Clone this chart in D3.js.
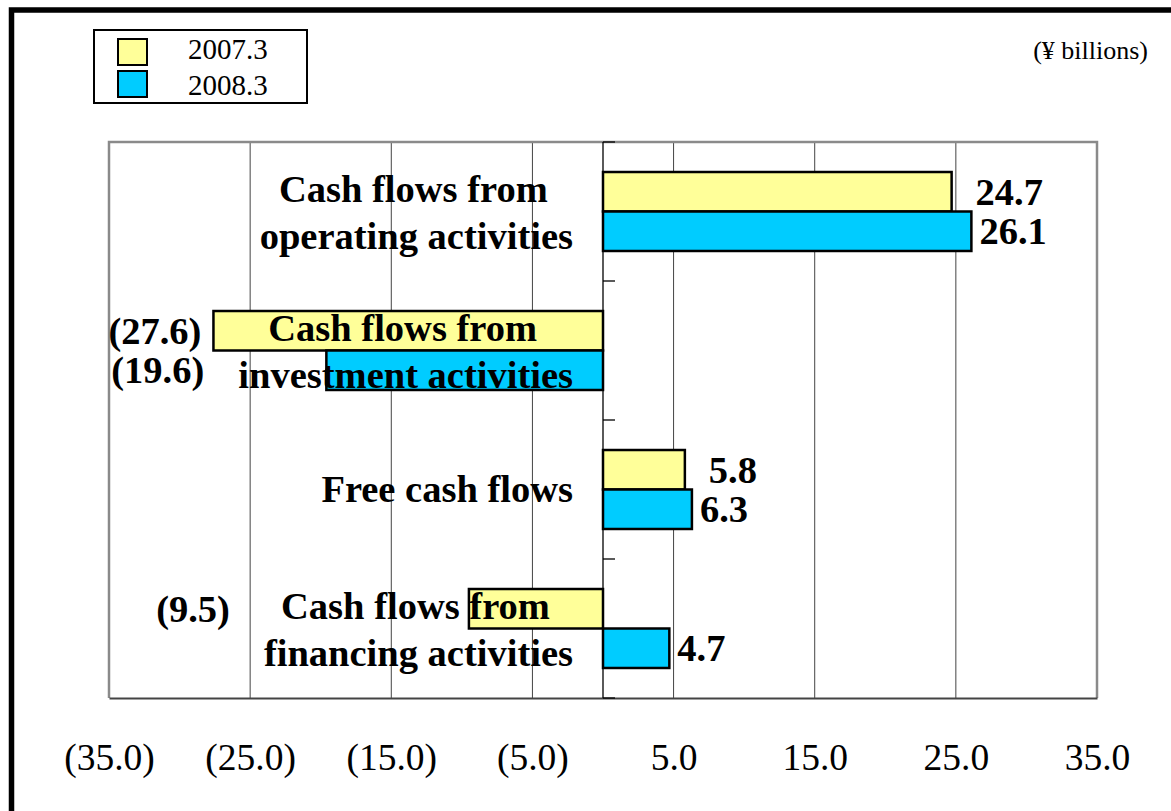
<!DOCTYPE html>
<html>
<head>
<meta charset="utf-8">
<script src="https://cdn.jsdelivr.net/npm/d3@7"></script>
<style>
  body { margin: 0; background: white; }
  svg text { font-family: "Liberation Serif", "Times New Roman", serif; }
</style>
</head>
<body>
<script>
// data (¥ billions)
var categories = [
  ["Cash flows from", "operating activities"],
  ["Cash flows from", "investment activities"],
  ["Free cash flows"],
  ["Cash flows from", "financing activities"]
];
var series = ["2007.3", "2008.3"];
var values2007 = [24.7, -27.6, 5.8, -9.5];
var values2008 = [26.1, -19.6, 6.3, 4.7];
var tickValues = [-35, -25, -15, -5, 5, 15, 25, 35];
var colors = ["#FFFF99", "#00CCFF"];

var W = 1171, H = 811;
var plot = {left: 109, right: 1097, top: 142, bottom: 698};

var svg = d3.select("body")
  .append("svg")
    .attr("width", W)
    .attr("height", H);

svg.append("rect")
  .attr("width", W).attr("height", H)
  .attr("fill", "white");

// outer frame (cut off on the right and bottom)
svg.append("rect")
  .attr("x", 11.5).attr("y", 10)
  .attr("width", W + 20).attr("height", H + 20)
  .attr("fill", "none")
  .attr("stroke", "black")
  .attr("stroke-width", 5.5);

// scales
var x = d3.scaleLinear()
  .domain([-35, 35])
  .range([plot.left, plot.right]);

var y = d3.scaleBand()
  .domain(d3.range(categories.length))
  .range([plot.top, plot.bottom])
  .padding(0);

var ySub = d3.scaleBand()
  .domain(series)
  .range([0, y.bandwidth()])
  .paddingInner(0)
  .paddingOuter(0.76);

// gridlines
svg.append("g")
  .selectAll("line")
  .data(tickValues.filter(function(d) { return Math.abs(d) < 35; }))
  .enter()
  .append("line")
    .attr("x1", function(d) { return x(d); })
    .attr("x2", function(d) { return x(d); })
    .attr("y1", plot.top)
    .attr("y2", plot.bottom)
    .attr("stroke", "#444")
    .attr("stroke-width", 1);

// plot frame
svg.append("path")
  .attr("d", "M" + plot.left + "," + plot.bottom + "V" + plot.top + "H" + plot.right + "V" + plot.bottom)
  .attr("fill", "none")
  .attr("stroke", "#8a8a8a")
  .attr("stroke-width", 2.5);

// bottom axis line + labels
var xAxis = svg.append("g")
  .attr("transform", "translate(0," + plot.bottom + ")")
  .call(d3.axisBottom(x)
    .tickValues(tickValues)
    .tickSize(0)
    .tickPadding(72)
    .tickFormat(function(d) { return d < 0 ? "(" + d3.format(".1f")(-d) + ")" : d3.format(".1f")(d); }));
xAxis.select(".domain")
  .attr("stroke", "#444")
  .attr("stroke-width", 2);
xAxis.selectAll("text")
  .attr("fill", "black")
  .attr("dy", 0)
  .style("font-size", "37.5px")
  .style("font-family", "'Liberation Serif', serif");

// bars
var rows = [];
categories.forEach(function(c, i) {
  rows.push({cat: i, s: series[0], v: values2007[i], color: colors[0]});
  rows.push({cat: i, s: series[1], v: values2008[i], color: colors[1]});
});

svg.append("g")
  .selectAll("rect")
  .data(rows)
  .enter()
  .append("rect")
    .attr("x", function(d) { return x(Math.min(0, d.v)); })
    .attr("y", function(d) { return y(d.cat) + ySub(d.s); })
    .attr("width", function(d) { return Math.abs(x(d.v) - x(0)); })
    .attr("height", ySub.bandwidth())
    .attr("fill", function(d) { return d.color; })
    .attr("stroke", "black")
    .attr("stroke-width", 2.5);

// zero axis with ticks to the right
var yAxis = svg.append("g")
  .attr("transform", "translate(" + x(0) + ",0)");
yAxis.append("line")
  .attr("y1", plot.top).attr("y2", plot.bottom)
  .attr("stroke", "black").attr("stroke-width", 1.3);
yAxis.selectAll(".tk")
  .data(d3.range(categories.length + 1))
  .enter()
  .append("line")
    .attr("class", "tk")
    .attr("x1", 0).attr("x2", 12)
    .attr("y1", function(d) { return plot.top + d * y.bandwidth(); })
    .attr("y2", function(d) { return plot.top + d * y.bandwidth(); })
    .attr("stroke", "black").attr("stroke-width", 1.3);

// category labels: last line ends at x=573, first line centered over it
var labelRight = 573;
var labelLefts = [];
categories.forEach(function(lines, i) {
  var c = y(i) + y.bandwidth() / 2;
  var g = svg.append("g");
  var baselines = lines.length == 1 ? [c + 12.5] : [c - 10, c + 37];
  var last = g.append("text")
    .attr("x", labelRight)
    .attr("y", baselines[lines.length - 1])
    .attr("text-anchor", "end")
    .style("font-size", "38.5px")
    .style("font-weight", "bold")
    .text(lines[lines.length - 1]);
  var lastLen = last.node().getComputedTextLength();
  var mid = labelRight - lastLen / 2;
  if (lines.length > 1) {
    g.append("text")
      .attr("x", mid - 3)
      .attr("y", baselines[0])
      .attr("text-anchor", "middle")
      .style("font-size", "38.5px")
      .style("font-weight", "bold")
      .text(lines[0]);
  }
  labelLefts.push(g.node().getBBox().x);
});

// value labels
var fmt = d3.format(".1f");
svg.append("g")
  .selectAll("text")
  .data(rows)
  .enter()
  .append("text")
    .attr("x", function(d) {
      if (d.v >= 0) return x(d.v) + (d.s == series[0] ? 24 : 8);
      return Math.min(x(d.v) - 12, labelLefts[d.cat] - 34);
    })
    .attr("y", function(d) { return y(d.cat) + ySub(d.s) + ySub.bandwidth() / 2 + 13; })
    .attr("text-anchor", function(d) { return d.v >= 0 ? "start" : "end"; })
    .style("font-size", "38.5px")
    .style("font-weight", "bold")
    .text(function(d) { return d.v < 0 ? "(" + fmt(-d.v) + ")" : fmt(d.v); });

// legend
var legend = svg.append("g");
legend.append("rect")
  .attr("x", 94).attr("y", 30)
  .attr("width", 213).attr("height", 73)
  .attr("fill", "white")
  .attr("stroke", "black")
  .attr("stroke-width", 2);
legend.selectAll(".sw")
  .data(series)
  .enter()
  .append("rect")
    .attr("class", "sw")
    .attr("x", 118)
    .attr("y", function(d, i) { return 39 + i * 32; })
    .attr("width", 29).attr("height", 26)
    .attr("fill", function(d, i) { return colors[i]; })
    .attr("stroke", "black")
    .attr("stroke-width", 2);
legend.selectAll(".lt")
  .data(series)
  .enter()
  .append("text")
    .attr("class", "lt")
    .attr("x", 188)
    .attr("y", function(d, i) { return 59 + i * 36; })
    .style("font-size", "29px")
    .text(function(d) { return d; });

// unit note
svg.append("text")
  .attr("x", 1148)
  .attr("y", 59)
  .attr("text-anchor", "end")
  .style("font-size", "26px")
  .text("(¥ billions)");
</script>
</body>
</html>
